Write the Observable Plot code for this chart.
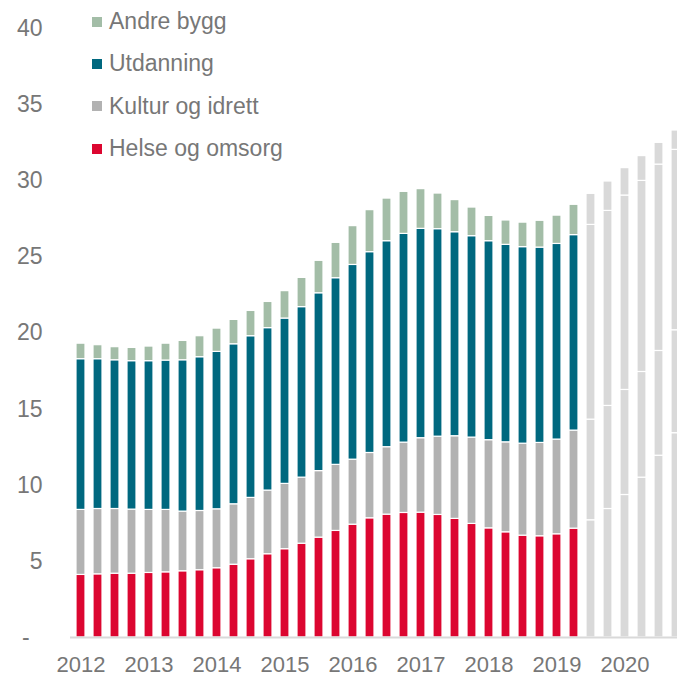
<!DOCTYPE html>
<html>
<head>
<meta charset="utf-8">
<script src="https://cdn.jsdelivr.net/npm/d3@7"></script>
<script src="https://cdn.jsdelivr.net/npm/@observablehq/plot@0.6"></script>
<style>
  html, body { margin: 0; padding: 0; background: #fff; overflow: hidden; }
  #wrap { position: relative; width: 677px; height: 677px; font-family: "Liberation Sans", Arial, sans-serif; }
  #legend { position: absolute; left: 92px; top: 0.5px; color: #777; font-size: 23px; }
  #legend .row { display: flex; align-items: center; height: 42.3px; }
  #legend .sw { width: 10px; height: 10px; margin-right: 7px; flex: none; }
</style>
</head>
<body>
<div id="wrap"><div id="legend"></div></div>
<script>
// Quarters (K = kvartal)
const quarters = [
  "2012K1","2012K2","2012K3","2012K4","2013K1","2013K2","2013K3","2013K4",
  "2014K1","2014K2","2014K3","2014K4","2015K1","2015K2","2015K3","2015K4",
  "2016K1","2016K2","2016K3","2016K4","2017K1","2017K2","2017K3","2017K4",
  "2018K1","2018K2","2018K3","2018K4","2019K1","2019K2","2019K3","2019K4",
  "2020K1","2020K2","2020K3","2020K4"
];
const firstForecast = "2019K3";

// Series values (bottom to top of each stack)
const helse = [4.11,4.15,4.19,4.19,4.24,4.28,4.35,4.42,4.55,4.78,5.14,5.47,5.80,6.16,6.56,7.00,
  7.41,7.83,8.07,8.18,8.20,8.05,7.79,7.46,7.17,6.91,6.69,6.65,6.78,7.15,
  7.70,8.44,9.36,10.50,11.94,13.42];
const kultur = [4.27,4.29,4.25,4.21,4.14,4.10,3.92,3.89,3.87,3.97,4.03,4.18,4.29,4.34,4.37,4.34,
  4.27,4.29,4.43,4.62,4.89,5.14,5.43,5.67,5.79,5.91,6.04,6.13,6.22,6.44,
  6.61,6.77,6.90,6.94,6.88,6.76];
const utdanning = [9.90,9.84,9.77,9.75,9.77,9.81,9.94,10.10,10.34,10.51,10.62,10.67,10.86,11.20,11.68,12.26,
  12.79,13.19,13.53,13.71,13.75,13.63,13.40,13.23,13.07,12.97,12.91,12.83,12.85,12.84,
  12.79,12.81,12.77,12.55,12.24,11.85];
const andre = [1.02,0.92,0.86,0.87,0.96,1.11,1.27,1.38,1.53,1.60,1.66,1.72,1.80,1.92,2.13,2.32,
  2.55,2.76,2.80,2.76,2.61,2.34,2.11,1.88,1.66,1.60,1.61,1.76,1.86,1.99,
  2.04,1.93,1.80,1.63,1.43,1.27];

const seriesNames = ["Helse og omsorg", "Kultur og idrett", "Utdanning", "Andre bygg"];
const seriesColors = ["#dc0630", "#b2b2b2", "#00687f", "#a3bda7"];
const forecastColor = "#d9d9d9";
const yTicks = [0, 5, 10, 15, 20, 25, 30, 35, 40];

const seriesValues = [helse, kultur, utdanning, andre];
const fcIndex = quarters.indexOf(firstForecast);
const rows = [];
quarters.forEach((q, i) => {
  seriesValues.forEach((vals, s) => {
    rows.push({q, serie: seriesNames[s], value: vals[i],
      color: i >= fcIndex ? forecastColor : seriesColors[s]});
  });
});

const chart = Plot.plot({
  width: 677,
  height: 677,
  marginTop: 28,
  marginBottom: 40,
  marginLeft: 70,
  marginRight: 0,
  style: {fontFamily: '"Liberation Sans", Arial, sans-serif', fontSize: "23px", color: "#777", background: "#fff"},
  x: {type: "band", domain: quarters, range: [65.2, 690.4], paddingInner: 0.5, paddingOuter: 0.5},
  y: {domain: [0, 40]},
  color: {type: "identity"},
  marks: [
    Plot.barY(rows, {x: "q", y: "value", fill: "color", stroke: "white", strokeWidth: 1.2}),
    Plot.ruleY([0], {stroke: "#d9d9d9", strokeWidth: 2}),
    Plot.axisY({ticks: yTicks, tickSize: 0, tickPadding: 28,
      tickFormat: d => d === 0 ? "-\u00a0\u00a0" : String(d), label: null}),
    Plot.axisX({ticks: quarters.filter(q => q.endsWith("K1")), tickSize: 0, tickPadding: 19,
      fontSize: 22, tickFormat: q => q.slice(0, 4), label: null})
  ]
});
document.getElementById("wrap").prepend(chart);

// Legend (top to bottom: reverse stack order)
const legend = document.getElementById("legend");
for (let s = seriesNames.length - 1; s >= 0; s--) {
  const row = document.createElement("div");
  row.className = "row";
  const sw = document.createElement("span");
  sw.className = "sw";
  sw.style.background = seriesColors[s];
  const tx = document.createElement("span");
  tx.textContent = seriesNames[s];
  row.append(sw, tx);
  legend.append(row);
}
</script>
</body>
</html>
